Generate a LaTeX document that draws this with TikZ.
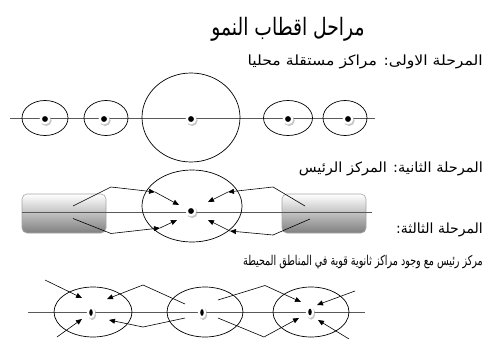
\documentclass[tikz,border=0pt]{standalone}
\usepackage{fontspec}
\usetikzlibrary{shapes.geometric,arrows.meta,shadows}
\newfontfamily\arabicfont[Script=Arabic]{DejaVu Sans}
\TeXXeTstate=1
\begin{document}
\begin{tikzpicture}[x=1pt,y=-1pt,
  ring/.style={draw=black, line width=0.7pt, ellipse, inner sep=0pt},
  axis/.style={draw=black!65, line width=0.8pt},
  arr/.style={draw=black, line width=0.6pt, -{Triangle[length=6pt,width=5pt]}},
  lnk/.style={draw=black, line width=0.6pt},
  txt/.style={font=\arabicfont\fontsize{14}{16}\selectfont, inner sep=0pt, anchor=east},
  box/.style={rounded corners=5pt, draw=black!35, top color=white, bottom color=black!50, line width=0.6pt, inner sep=0pt},
  pole/.style={circle, fill=black, draw=white, line width=2.2pt, minimum size=8.5pt, inner sep=0pt,
    drop shadow={shadow xshift=0.9pt, shadow yshift=-1.2pt, shadow scale=1.3, fill=black!40, opacity=0.55}},
  vpole/.style={ellipse, fill=black, draw=white, line width=2.2pt, minimum width=6pt, minimum height=9.5pt, inner sep=0pt,
    drop shadow={shadow xshift=0.9pt, shadow yshift=-1.2pt, shadow scale=1.3, fill=black!40, opacity=0.55}},
]
\useasboundingbox (0,0) rectangle (486,339);
\fill[white] (0,0) rectangle (486,339);

% texts
\node[font=\arabicfont\fontsize{24}{28}\selectfont, inner sep=0pt, xscale=0.78] (title) at (288,29) {\beginR مراحل اقطاب النمو\endR};
\node[txt, xscale=1.12] (t1) at (483,62) {\beginR المرحلة الاولى: مراكز مستقلة محليا\endR};
\node[txt, xscale=1.04] (t2) at (483,169) {\beginR المرحلة الثانية: المركز الرئيس\endR};
\node[txt] (t3) at (483,230) {\beginR المرحلة الثالثة:\endR};
\node[txt, font=\arabicfont\fontsize{13.5}{16}\selectfont, xscale=0.71] (t4) at (483,262) {\beginR مركز رئيس مع وجود مراكز ثانوية قوية في المناطق المحيطة\endR};

% stage 1
\coordinate (a1l) at (10,118);
\coordinate (a1r) at (375,118);
\draw[axis] (a1l) -- (a1r);
\node[ring, minimum width=46pt, minimum height=35pt] (e1) at (45,118) {};
\node[ring, minimum width=44pt, minimum height=35pt] (e2) at (106,118) {};
\node[ring, minimum width=98pt, minimum height=89pt] (e3) at (191,117.5) {};
\node[ring, minimum width=49pt, minimum height=35pt] (e4) at (288,118) {};
\node[ring, minimum width=44pt, minimum height=35pt] (e5) at (345,118) {};
\node[pole] (d1) at (45,119) {};
\node[pole] (d2) at (104,119) {};
\node[pole] (d3) at (191,119) {};
\node[pole] (d4) at (288,119) {};
\node[pole] (d5) at (348,119) {};

% stage 2
\node[box, minimum width=84pt, minimum height=39pt] (b1) at (64,213.5) {};
\node[box, minimum width=84pt, minimum height=39pt] (b2) at (324,213.5) {};
\coordinate (a2l) at (22,212.7);
\coordinate (a2r) at (372,212.7);
\draw[axis] (a2l) -- (a2r);
\node[ring, minimum width=100pt, minimum height=72pt] (E2) at (192,206) {};
\node[pole] (D2) at (191,211) {};
\coordinate (p1) at (73,206);   \coordinate (q1) at (111,187);  \coordinate (r1) at (155,192);
\coordinate (s1) at (179,205);
\coordinate (p2) at (305,206);  \coordinate (q2) at (273,187);  \coordinate (r2) at (228,192);
\coordinate (s2) at (208,202);
\coordinate (p3) at (73,218.5); \coordinate (q3) at (111,233.5);\coordinate (r3) at (160,228);
\coordinate (s3) at (177,220);
\coordinate (p4) at (310,219);  \coordinate (q4) at (273,235);  \coordinate (r4) at (230,231);
\coordinate (s4) at (208,220);
\draw[arr] (p1) -- (q1) -- (r1);  \draw[arr] (r1) -- (s1);
\draw[arr] (p2) -- (q2) -- (r2);  \draw[arr] (r2) -- (s2);
\draw[arr] (p3) -- (q3) -- (r3);  \draw[arr] (r3) -- (s3);
\draw[arr] (p4) -- (q4) -- (r4);  \draw[arr] (r4) -- (s4);

% stage 3
\coordinate (a3l) at (28,312);
\coordinate (a3r) at (365,312);
\draw[axis] (a3l) -- (a3r);
\node[ring, minimum width=78pt, minimum height=50pt] (F1) at (93,312) {};
\node[ring, minimum width=76pt, minimum height=50pt] (F2) at (205,312) {};
\node[ring, minimum width=76pt, minimum height=50pt] (F3) at (311,312) {};
\node[vpole] (G1) at (91,312.5) {};
\node[vpole] (G2) at (202,312.5) {};
\node[vpole] (G3) at (310,312) {};

\coordinate (u1) at (45,280);  \coordinate (u1t) at (82,298);
\coordinate (u2) at (57,337);  \coordinate (u2t) at (82,319);
\coordinate (m1) at (185,304); \coordinate (m1k) at (143,285); \coordinate (m1t) at (107,299);
\coordinate (m2) at (185,318); \coordinate (m2k) at (143,327); \coordinate (m2t) at (109,320);
\coordinate (n1) at (218,300); \coordinate (n1k) at (265,285.5);\coordinate (n1t) at (301,302);
\coordinate (n2) at (218,318); \coordinate (n2k) at (264,337); \coordinate (n2t) at (299,318);
\coordinate (w1) at (355,291); \coordinate (w1t) at (317,305);
\coordinate (w2) at (349,339); \coordinate (w2t) at (318,320);
\draw[arr] (u1) -- (u1t);
\draw[arr] (u2) -- (u2t);
\draw[arr] (m1) -- (m1k) -- (m1t);
\draw[arr] (m2) -- (m2k) -- (m2t);
\draw[arr] (n1) -- (n1k) -- (n1t);
\draw[arr] (n2) -- (n2k) -- (n2t);
\draw[arr] (w1) -- (w1t);
\draw[arr] (w2) -- (w2t);
\end{tikzpicture}
\end{document}
